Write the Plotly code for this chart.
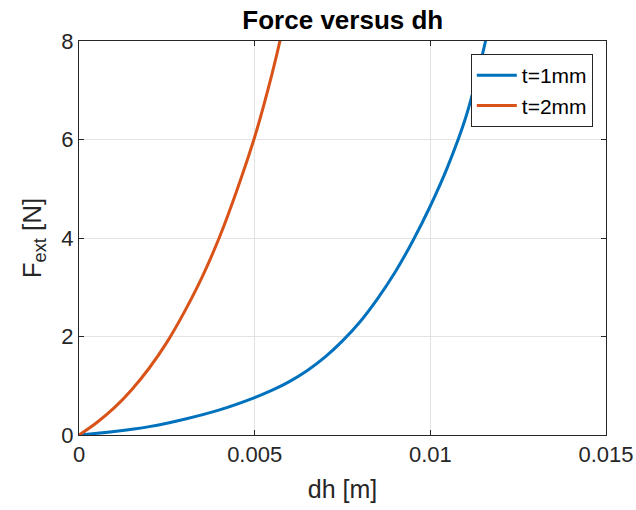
import plotly.graph_objects as go

# t = 1 mm  (dh [m], F_ext [N])
dh_1 = [0, 0.001, 0.002, 0.003, 0.004, 0.005, 0.0055, 0.006, 0.0065, 0.007, 0.0075,
        0.008, 0.0085, 0.009, 0.0095, 0.010, 0.0105, 0.011, 0.0115, 0.0118]
F_1 = [0, 0.07, 0.17, 0.32, 0.51, 0.76, 0.91, 1.09, 1.31, 1.58, 1.91,
       2.30, 2.77, 3.31, 3.94, 4.65, 5.46, 6.43, 7.78, 8.77]

# t = 2 mm
dh_2 = [0, 0.0005, 0.001, 0.0015, 0.002, 0.0025, 0.003, 0.0035, 0.004, 0.0045,
        0.005, 0.0055, 0.0058]
F_2 = [0, 0.25, 0.55, 0.92, 1.36, 1.88, 2.50, 3.20, 4.02, 4.98, 6.05, 7.35, 8.25]

x_ticks = [0, 0.005, 0.01, 0.015]
x_tick_labels = ["0", "0.005", "0.01", "0.015"]
y_ticks = [0, 2, 4, 6, 8]

font_family = "Liberation Sans, Arial, sans-serif"
txt = "#262626"

fig = go.Figure()
fig.add_trace(go.Scatter(x=dh_1, y=F_1, mode="lines", name="t=1mm",
                         line=dict(color="#0072BD", width=3, shape="spline", smoothing=1)))
fig.add_trace(go.Scatter(x=dh_2, y=F_2, mode="lines", name="t=2mm",
                         line=dict(color="#D95319", width=3, shape="spline", smoothing=1)))

fig.update_layout(
    width=636, height=510,
    margin=dict(l=79, r=30, t=41, b=75),
    paper_bgcolor="white", plot_bgcolor="white",
    font=dict(family=font_family, color=txt, size=22),
    title=dict(text="<b>Force versus dh</b>", x=0.539, xanchor="center",
               y=0.961, yanchor="middle", font=dict(size=26, color="black")),
    showlegend=True,
    legend=dict(x=0.975, y=0.967, xanchor="right", yanchor="top",
                bordercolor="#262626", borderwidth=1, bgcolor="white",
                font=dict(size=21, color="black"), tracegroupgap=0,
                itemwidth=40),
)
fig.update_xaxes(
    range=[0, 0.015], tickvals=x_ticks, ticktext=x_tick_labels,
    showgrid=True, gridcolor="#e3e3e3", gridwidth=1, automargin=False,
    showline=True, linecolor="#262626", linewidth=1, mirror="ticks",
    ticks="inside", ticklen=5, tickcolor="#262626", zeroline=False,
    title=dict(text="dh [m]", font=dict(size=25, color=txt), standoff=14),
    tickfont=dict(size=22, color=txt),
)
fig.update_yaxes(
    range=[0, 8], tickvals=y_ticks, automargin=False,
    showgrid=True, gridcolor="#e3e3e3", gridwidth=1,
    showline=True, linecolor="#262626", linewidth=1, mirror="ticks",
    ticks="inside", ticklen=5, tickcolor="#262626", zeroline=False,
    title=dict(text="F<sub>ext</sub> [N]", font=dict(size=26, color=txt), standoff=12),
    tickfont=dict(size=22, color=txt),
)

fig.write_html("out.html")
